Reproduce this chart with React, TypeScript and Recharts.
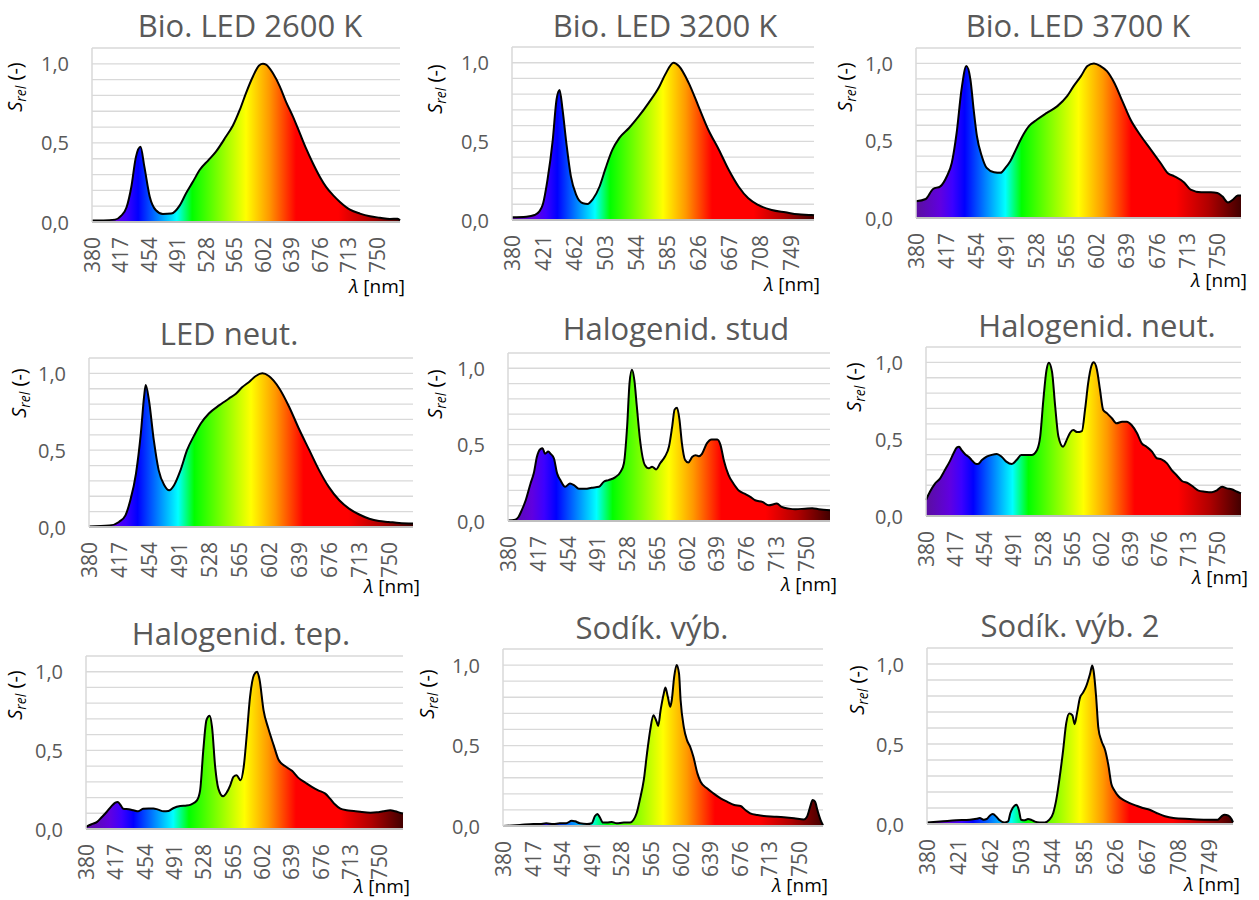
import React from 'react';
import { AreaChart, Area, XAxis, YAxis, CartesianGrid } from 'recharts';

// ---------- axis ticks ----------
const ticks37 = [380, 417, 454, 491, 528, 565, 602, 639, 676, 713, 750];
const ticks41 = [380, 421, 462, 503, 544, 585, 626, 667, 708, 749];
const yTicks = [0, 0.1, 0.2, 0.3, 0.4, 0.5, 0.6, 0.7, 0.8, 0.9, 1.0, 1.1];
const yTickLabels: Record<string, string> = { '0': '0,0', '0.5': '0,5', '1': '1,0' };

// ---------- titles ----------
const titles = [
  'Bio. LED 2600 K', 'Bio. LED 3200 K', 'Bio. LED 3700 K',
  'LED neut.', 'Halogenid. stud', 'Halogenid. neut.',
  'Halogenid. tep.', 'Sodík. výb.', 'Sodík. výb. 2',
];

// ---------- spectra (wavelength nm, relative value) ----------
const bio2600Nm = [380, 395, 410, 418, 425, 431, 437, 443, 448, 455, 463, 472, 483, 494, 502, 511, 520, 531, 541, 554, 563, 572, 580, 589, 597, 602, 606, 615, 624, 632, 641, 650, 658, 667, 676, 684, 693, 702, 715, 728, 741, 754, 767, 777, 780];
const bio2600 = [0.01, 0.01, 0.015, 0.04, 0.095, 0.22, 0.41, 0.475, 0.35, 0.16, 0.074, 0.05, 0.053, 0.105, 0.18, 0.254, 0.33, 0.39, 0.445, 0.54, 0.61, 0.71, 0.815, 0.92, 0.99, 1.0, 0.995, 0.94, 0.856, 0.76, 0.666, 0.56, 0.465, 0.37, 0.285, 0.222, 0.17, 0.127, 0.078, 0.053, 0.036, 0.027, 0.019, 0.021, 0.01];

const bio3200Nm = [380, 399, 410, 416, 421, 427, 434, 439, 443, 447, 452, 458, 465, 474, 480, 487, 496, 504, 513, 522, 535, 548, 561, 575, 583, 594, 601, 614, 627, 640, 654, 667, 680, 693, 706, 724, 742, 759, 777, 780];
const bio3200 = [0.017, 0.021, 0.032, 0.053, 0.102, 0.255, 0.51, 0.766, 0.826, 0.7, 0.489, 0.277, 0.16, 0.106, 0.102, 0.132, 0.213, 0.33, 0.447, 0.521, 0.585, 0.66, 0.745, 0.847, 0.926, 1.0, 0.979, 0.872, 0.723, 0.574, 0.447, 0.319, 0.213, 0.138, 0.096, 0.064, 0.049, 0.036, 0.032, 0.03];

const bio3700Nm = [380, 392, 401, 410, 418, 424, 430, 436, 442, 447, 451, 455, 461, 467, 476, 484, 490, 496, 502, 511, 519, 529, 541, 554, 566, 574, 583, 591, 599, 607, 615, 624, 634, 644, 657, 669, 681, 690, 698, 710, 718, 731, 743, 751, 757, 764, 770, 776, 780];
const bio3700 = [0.108, 0.123, 0.188, 0.205, 0.27, 0.356, 0.55, 0.83, 0.983, 0.896, 0.7, 0.529, 0.4, 0.324, 0.296, 0.292, 0.324, 0.367, 0.432, 0.529, 0.594, 0.637, 0.68, 0.724, 0.788, 0.853, 0.918, 0.983, 1.0, 0.983, 0.95, 0.875, 0.756, 0.637, 0.529, 0.443, 0.356, 0.29, 0.27, 0.23, 0.183, 0.166, 0.166, 0.162, 0.14, 0.1, 0.118, 0.145, 0.145];

const ledNeutNm = [380, 405, 417, 425, 431, 438, 444, 448, 450, 454, 460, 466, 473, 479, 485, 493, 501, 510, 518, 528, 541, 553, 561, 569, 578, 586, 594, 602, 615, 627, 639, 652, 664, 676, 689, 701, 713, 726, 738, 750, 763, 780];
const ledNeut = [0.004, 0.009, 0.033, 0.076, 0.174, 0.348, 0.609, 0.848, 0.924, 0.826, 0.565, 0.37, 0.272, 0.239, 0.272, 0.37, 0.5, 0.598, 0.674, 0.739, 0.793, 0.837, 0.865, 0.909, 0.946, 0.983, 1.0, 0.983, 0.902, 0.783, 0.641, 0.5, 0.37, 0.261, 0.174, 0.12, 0.083, 0.054, 0.039, 0.033, 0.026, 0.022];

const halStudNm = [380, 389, 393, 397, 402, 408, 412, 416, 420, 423, 426, 430, 433, 437, 441, 445, 451, 457, 462, 468, 476, 484, 493, 499, 505, 513, 520, 524, 528, 531, 534, 537, 540, 544, 550, 555, 559, 564, 569, 575, 580, 584, 587, 590, 593, 596, 600, 604, 609, 613, 617, 621, 627, 633, 640, 644, 648, 654, 660, 667, 675, 681, 687, 696, 704, 714, 720, 729, 737, 749, 758, 766, 780];
const halStud = [0.004, 0.009, 0.026, 0.07, 0.136, 0.246, 0.312, 0.422, 0.47, 0.477, 0.44, 0.455, 0.44, 0.411, 0.312, 0.268, 0.224, 0.246, 0.235, 0.211, 0.211, 0.218, 0.224, 0.257, 0.268, 0.286, 0.323, 0.378, 0.62, 0.905, 0.99, 0.92, 0.752, 0.532, 0.367, 0.345, 0.356, 0.338, 0.378, 0.422, 0.488, 0.62, 0.73, 0.741, 0.664, 0.51, 0.4, 0.383, 0.42, 0.431, 0.424, 0.44, 0.508, 0.534, 0.534, 0.497, 0.4, 0.301, 0.246, 0.198, 0.176, 0.158, 0.136, 0.125, 0.103, 0.114, 0.092, 0.081, 0.077, 0.081, 0.084, 0.077, 0.07];

const halNeutNm = [380, 385, 391, 398, 404, 410, 415, 419, 422, 425, 430, 434, 438, 442, 446, 451, 457, 463, 470, 476, 482, 489, 495, 501, 508, 514, 521, 525, 529, 533, 536, 540, 544, 548, 554, 559, 563, 567, 572, 578, 582, 586, 590, 593, 597, 601, 605, 610, 616, 622, 629, 635, 641, 648, 654, 660, 667, 673, 679, 686, 692, 698, 705, 713, 720, 726, 734, 743, 749, 756, 762, 768, 775, 780];
const halNeut = [0.104, 0.158, 0.208, 0.245, 0.299, 0.354, 0.408, 0.445, 0.451, 0.43, 0.401, 0.386, 0.364, 0.343, 0.338, 0.364, 0.386, 0.397, 0.404, 0.386, 0.354, 0.338, 0.364, 0.397, 0.397, 0.397, 0.43, 0.516, 0.755, 0.95, 0.998, 0.94, 0.716, 0.521, 0.451, 0.499, 0.542, 0.559, 0.546, 0.553, 0.694, 0.868, 0.976, 1.0, 0.954, 0.82, 0.69, 0.668, 0.636, 0.603, 0.614, 0.614, 0.592, 0.538, 0.473, 0.451, 0.419, 0.376, 0.369, 0.343, 0.299, 0.267, 0.228, 0.213, 0.187, 0.165, 0.158, 0.154, 0.165, 0.191, 0.18, 0.174, 0.158, 0.147];

const halTepNm = [380, 387, 394, 400, 406, 412, 417, 420, 423, 427, 434, 440, 446, 452, 459, 465, 471, 478, 484, 490, 499, 507, 513, 520, 524, 528, 532, 536, 539, 543, 547, 553, 558, 562, 566, 570, 575, 579, 583, 587, 592, 596, 599, 604, 610, 617, 623, 631, 640, 648, 657, 665, 673, 682, 688, 694, 701, 709, 718, 728, 739, 747, 755, 764, 770, 777, 780];
const halTep = [0.013, 0.03, 0.045, 0.076, 0.108, 0.144, 0.168, 0.172, 0.157, 0.129, 0.125, 0.119, 0.113, 0.129, 0.131, 0.131, 0.123, 0.113, 0.115, 0.132, 0.146, 0.149, 0.157, 0.182, 0.246, 0.501, 0.692, 0.72, 0.65, 0.395, 0.257, 0.208, 0.236, 0.278, 0.331, 0.342, 0.31, 0.395, 0.607, 0.84, 0.98, 1.0, 0.95, 0.756, 0.64, 0.53, 0.44, 0.4, 0.37, 0.325, 0.294, 0.268, 0.246, 0.225, 0.193, 0.157, 0.129, 0.119, 0.115, 0.108, 0.104, 0.106, 0.113, 0.119, 0.113, 0.102, 0.098];

const sodik1Nm = [380, 401, 418, 426, 434, 443, 451, 459, 466, 470, 476, 485, 491, 495, 498, 501, 505, 510, 516, 522, 531, 539, 543, 547, 551, 556, 560, 564, 568, 572, 574, 577, 581, 583, 586, 589, 591, 594, 597, 600, 602, 606, 610, 614, 618, 623, 627, 635, 643, 652, 660, 669, 677, 683, 689, 698, 706, 719, 731, 744, 756, 760, 764, 767, 770, 773, 777, 780];
const sodik1 = [0.0, 0.006, 0.012, 0.012, 0.017, 0.012, 0.017, 0.017, 0.033, 0.029, 0.017, 0.012, 0.017, 0.062, 0.075, 0.054, 0.021, 0.021, 0.025, 0.017, 0.021, 0.021, 0.037, 0.079, 0.162, 0.286, 0.451, 0.596, 0.689, 0.648, 0.621, 0.72, 0.824, 0.861, 0.803, 0.741, 0.783, 0.928, 1.0, 0.948, 0.783, 0.615, 0.534, 0.492, 0.43, 0.327, 0.275, 0.234, 0.203, 0.172, 0.151, 0.13, 0.124, 0.099, 0.079, 0.068, 0.062, 0.058, 0.054, 0.048, 0.041, 0.058, 0.12, 0.161, 0.151, 0.099, 0.037, 0.005];

const sodik2Nm = [380, 397, 418, 436, 445, 449, 454, 458, 462, 466, 471, 475, 481, 486, 489, 492, 497, 500, 503, 508, 512, 516, 521, 527, 534, 540, 545, 549, 553, 558, 562, 566, 570, 573, 576, 580, 584, 588, 593, 596, 598, 601, 604, 608, 613, 617, 621, 625, 630, 636, 645, 654, 662, 671, 680, 691, 702, 723, 745, 760, 765, 769, 774, 778, 780];
const sodik2 = [0.01, 0.015, 0.023, 0.027, 0.033, 0.037, 0.027, 0.031, 0.052, 0.062, 0.044, 0.023, 0.01, 0.017, 0.069, 0.1, 0.121, 0.089, 0.027, 0.023, 0.031, 0.027, 0.015, 0.01, 0.01, 0.027, 0.069, 0.152, 0.277, 0.464, 0.63, 0.69, 0.68, 0.624, 0.69, 0.79, 0.821, 0.86, 0.936, 0.99, 0.95, 0.8, 0.6, 0.52, 0.46, 0.37, 0.25, 0.21, 0.175, 0.152, 0.131, 0.114, 0.1, 0.089, 0.069, 0.048, 0.037, 0.031, 0.027, 0.027, 0.048, 0.058, 0.052, 0.031, 0.01];

// ---------- rainbow fill (style) ----------
const gradNm = [380, 410, 425, 440, 465, 490, 510, 545, 580, 610, 645, 700, 740, 780];
const gradColors = ['#5b0f9e', '#6000e0', '#3c00ff', '#0000ff', '#0080ff', '#00ffff', '#00ff00', '#80ff00', '#ffff00', '#ff9900', '#ff0000', '#ff0000', '#b00000', '#420000'];

const FONT = "'Open Sans', 'DejaVu Sans', sans-serif";

// ---------- layout (plot boxes & label anchors, page px) ----------
const panels = [
  { nm: bio2600Nm, v: bio2600, ticks: ticks37, L: 92, R: 400, T: 48, B: 222, tx: 250, ty: 37, yl: [16, 87], lx: 405, ly: 293 },
  { nm: bio3200Nm, v: bio3200, ticks: ticks41, L: 512, R: 814, T: 47, B: 220, tx: 665, ty: 37, yl: [436, 89], lx: 820, ly: 291 },
  { nm: bio3700Nm, v: bio3700, ticks: ticks37, L: 916, R: 1241, T: 48, B: 218, tx: 1078, ty: 37, yl: [846, 87], lx: 1247, ly: 287 },
  { nm: ledNeutNm, v: ledNeut, ticks: ticks37, L: 89, R: 413, T: 358, B: 527, tx: 229, ty: 345, yl: [20, 393], lx: 420, ly: 593 },
  { nm: halStudNm, v: halStud, ticks: ticks37, L: 508, R: 830, T: 353, B: 521, tx: 676, ty: 340, yl: [436, 394], lx: 837, ly: 591 },
  { nm: halNeutNm, v: halNeut, ticks: ticks37, L: 926, R: 1241, T: 347, B: 516, tx: 1097, ty: 337, yl: [855, 387], lx: 1248, ly: 584 },
  { nm: halTepNm, v: halTep, ticks: ticks37, L: 86, R: 403, T: 656, B: 829, tx: 241, ty: 645, yl: [16, 695], lx: 410, ly: 893 },
  { nm: sodik1Nm, v: sodik1, ticks: ticks37, L: 503, R: 823, T: 649, B: 826, tx: 652, ty: 639, yl: [428, 694], lx: 828, ly: 892 },
  { nm: sodik2Nm, v: sodik2, ticks: ticks41, L: 927, R: 1233, T: 648, B: 824, tx: 1070, ty: 637, yl: [858, 690], lx: 1240, ly: 891 },
];

const YW = 60;
const MT = 6;
const MR = 6;
const XH = 70;

function Panel({ p, idx }: { p: any; idx: number }) {
  const plotW = p.R - p.L;
  const plotH = p.B - p.T;
  const w = YW + plotW + MR;
  const h = MT + plotH + XH;
  const bottom = MT + plotH;
  const data = p.nm.map((n: number, i: number) => ({ nm: n, v: p.v[i] }));
  const gid = `rainbow${idx}`;

  const xTick = (props: any) => {
    const { x, payload } = props;
    const yy = bottom + 15;
    return (
      <text
        x={x}
        y={yy}
        transform={`rotate(-90 ${x} ${yy})`}
        textAnchor="end"
        dominantBaseline="central"
        fontSize={21}
        fontFamily={FONT}
        fill="#595959"
      >
        {payload.value}
      </text>
    );
  };

  const yTick = (props: any) => {
    const { y, payload } = props;
    const lbl = yTickLabels[String(payload.value)];
    if (!lbl) return <g />;
    return (
      <text
        x={YW - 23}
        y={y}
        textAnchor="end"
        dominantBaseline="central"
        fontSize={20}
        fontFamily={FONT}
        fill="#595959"
      >
        {lbl}
      </text>
    );
  };

  return (
    <div style={{ position: 'absolute', left: p.L - YW, top: p.T - MT }}>
      <AreaChart width={w} height={h} data={data} margin={{ top: MT, right: MR, left: 0, bottom: 0 }}>
        <defs>
          <linearGradient id={gid} x1="0" y1="0" x2="1" y2="0">
            {gradNm.map((n, i) => (
              <stop key={i} offset={(n - 380) / 400} stopColor={gradColors[i]} />
            ))}
          </linearGradient>
        </defs>
        <CartesianGrid vertical={false} stroke="#d9d9d9" strokeWidth={1.3} />
        <XAxis
          type="number"
          dataKey="nm"
          domain={[380, 780]}
          ticks={p.ticks}
          interval={0}
          height={XH}
          tickLine={false}
          axisLine={{ stroke: '#bfbfbf', strokeWidth: 2 }}
          tick={xTick}
        />
        <YAxis
          type="number"
          domain={[0, 1.1]}
          ticks={yTicks}
          interval={0}
          width={YW}
          tickLine={false}
          axisLine={{ stroke: '#d9d9d9', strokeWidth: 1.5 }}
          tick={yTick}
        />
        <Area
          type="monotone"
          dataKey="v"
          stroke="#000"
          strokeWidth={2}
          fill={`url(#${gid})`}
          fillOpacity={1}
          isAnimationActive={false}
          dot={false}
          activeDot={false}
        />
      </AreaChart>
    </div>
  );
}

export default function App() {
  return (
    <div style={{ position: 'absolute', left: 0, top: 0, width: 1259, height: 900, background: '#fff', overflow: 'hidden' }}>
      {panels.map((p, i) => (
        <Panel key={i} p={p} idx={i} />
      ))}
      <svg width={1259} height={900} style={{ position: 'absolute', left: 0, top: 0, pointerEvents: 'none' }}>
        {panels.map((p, i) => (
          <g key={i}>
            <text x={p.tx} y={p.ty} textAnchor="middle" fontSize={31} fontFamily={FONT} fill="#595959">
              {titles[i]}
            </text>
            <text
              transform={`translate(${p.yl[0]},${p.yl[1]}) rotate(-90)`}
              textAnchor="middle"
              fontSize={20}
              fontFamily={FONT}
              fill="#000"
              dy={6}
            >
              <tspan fontStyle="italic">S</tspan>
              <tspan fontStyle="italic" fontSize={14} dy={4}>rel</tspan>
              <tspan dy={-4}> (-)</tspan>
            </text>
            <text x={p.lx} y={p.ly} textAnchor="end" fontSize={19} fontFamily={FONT} fill="#000">
              <tspan fontStyle="italic">λ</tspan> [nm]
            </text>
          </g>
        ))}
      </svg>
    </div>
  );
}
